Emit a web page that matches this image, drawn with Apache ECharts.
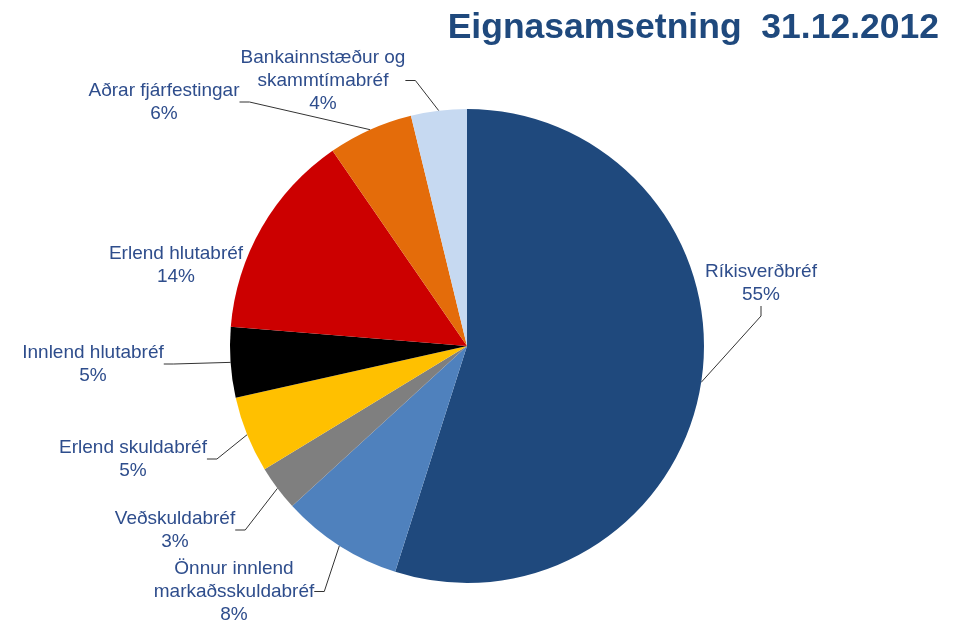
<!DOCTYPE html>
<html lang="is">
<head>
<meta charset="UTF-8">
<title>Eignasamsetning 31.12.2012</title>
<script src="https://cdn.jsdelivr.net/npm/echarts@6/dist/echarts.min.js"></script>
<style>
  html, body { margin: 0; padding: 0; background: #fff; }
</style>
</head>
<body>
<div id="container" style="width:957px;height:623px;"></div>
<script>
// flokkar og hlutföll (%)
var categories = ['Ríkisverðbréf', 'Önnur innlend\nmarkaðsskuldabréf', 'Veðskuldabréf', 'Erlend skuldabréf',
  'Innlend hlutabréf', 'Erlend hlutabréf', 'Aðrar fjárfestingar', 'Bankainnstæður og\nskammtímabréf'];
var values = [54.9, 8.3, 3.1, 5.2, 4.8, 14.1, 5.8, 3.8];
var colors = ['#1F497D', '#4F81BD', '#7F7F7F', '#FFC000', '#000000', '#CC0000', '#E46C0A', '#C6D9F1'];
// label anchor (center x, top y) for each slice
var labelX = [761, 234, 175, 133, 93, 176, 164, 323];
var labelY = [260, 557, 507, 436, 341, 242, 79, 46];

var chart = echarts.init(document.getElementById('container'));

var data = categories.map(function (c, i) {
  var d = { name: c, value: values[i], itemStyle: { color: colors[i] } };
  if (i === 5) d.labelLine = { show: false };   // no leader line on Erlend hlutabréf
  return d;
});

chart.setOption({
  animation: false,
  title: {
    text: 'Eignasamsetning  31.12.2012',
    right: 13,
    top: 5,
    textStyle: { fontFamily: 'Liberation Sans', fontWeight: 'bold', fontSize: 35.5, color: '#1F497D' }
  },
  series: [{
    type: 'pie',
    center: [467, 346],
    radius: 237,
    startAngle: 90,
    clockwise: true,
    data: data,
    itemStyle: { borderWidth: 0 },
    label: {
      show: true,
      position: 'outside',
      formatter: function (p) { return p.name + '\n' + Math.round(p.value) + '%'; },
      fontFamily: 'Liberation Sans',
      fontSize: 19,
      lineHeight: 23,
      color: '#2E4D8C',
      align: 'center'
    },
    labelLine: {
      show: true,
      length: 10,
      length2: 10,
      lineStyle: { color: '#333', width: 1 }
    },
    labelLayout: function (p) {
      return {
        x: labelX[p.dataIndex],
        y: labelY[p.dataIndex],
        align: 'center',
        verticalAlign: 'top',
        moveOverlap: false
      };
    }
  }]
});
</script>
</body>
</html>
